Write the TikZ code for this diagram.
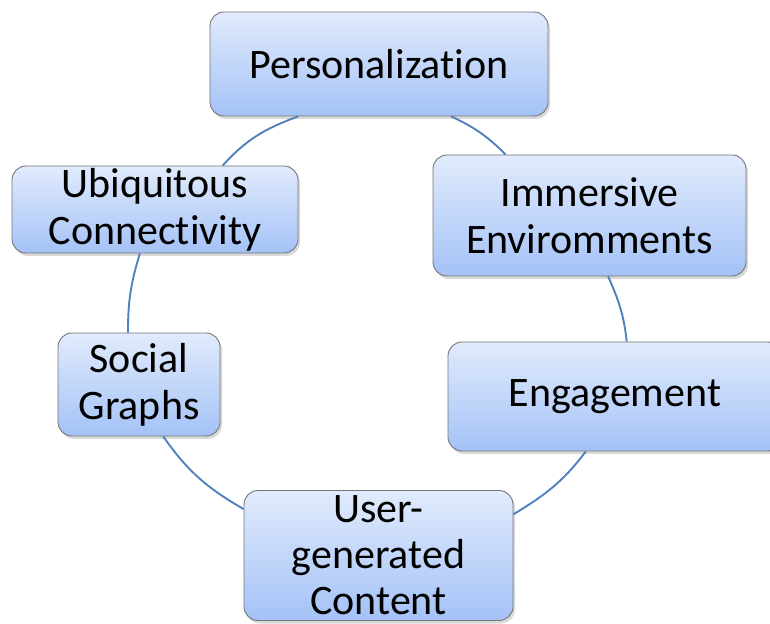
\documentclass[tikz,border=0pt]{standalone}
\usepackage{fontspec}
\setmainfont[Ligatures={NoCommon,NoRare}]{Carlito}
\usetikzlibrary{shadows}
\definecolor{boxtop}{RGB}{225,235,252}
\definecolor{boxbot}{RGB}{164,194,247}
\definecolor{boxline}{RGB}{118,118,118}
\definecolor{ringblue}{RGB}{79,129,189}
\newcommand{\noti}{t\kern0pt i}

\begin{document}
\begin{tikzpicture}[x=1pt,y=1pt,
  cyclebox/.style={draw=boxline, line width=0.9pt, rounded corners=14pt,
    top color=boxtop, bottom color=boxbot, align=center,
    font=\fontsize{42}{47}\selectfont,
    drop shadow={opacity=0.3, shadow xshift=2pt, shadow yshift=-3pt}},
  cycleline/.style={draw=ringblue, line width=1.9pt}]
\tikzstyle{every node}+=[inner sep=0pt]
\useasboundingbox (0,0) rectangle (770,623);
\node [cyclebox, minimum width=338pt, minimum height=104pt] (pers) at (379,559) {Personaliza\noti on};
\node [cyclebox, minimum width=313pt, minimum height=121pt] (imm) at (589.5,407.5) {Immersive\\Enviromments};
\node [cyclebox, minimum width=334pt, minimum height=109pt] (eng) at (615,226.5) {Engagement};
\node [cyclebox, minimum width=269pt, minimum height=130pt, font=\fontsize{42}{46}\selectfont] (user) at (378.5,67.5) {User-\\generated\\Content};
\node [cyclebox, minimum width=162pt, minimum height=103pt] (social) at (139,238.5) {Social\\Graphs};
\node [cyclebox, minimum width=286pt, minimum height=87pt] (ubiq) at (155,413.5) {Ubiquitous\\Connec\noti vity};
\draw [cycleline] (pers.324) to[out=335,in=135] (imm.144);
\draw [cycleline] (imm.287) to[out=294,in=96] (eng.78);
\draw [cycleline] (eng.242) to[out=233,in=31] (user.17);
\draw [cycleline] (user.161) to[out=150,in=305] (social.295);
\draw [cycleline] (social.102) to[out=90,in=253] (ubiq.251);
\draw [cycleline] (ubiq.33) to[out=48,in=200] (pers.213);
\end{tikzpicture}
\end{document}
